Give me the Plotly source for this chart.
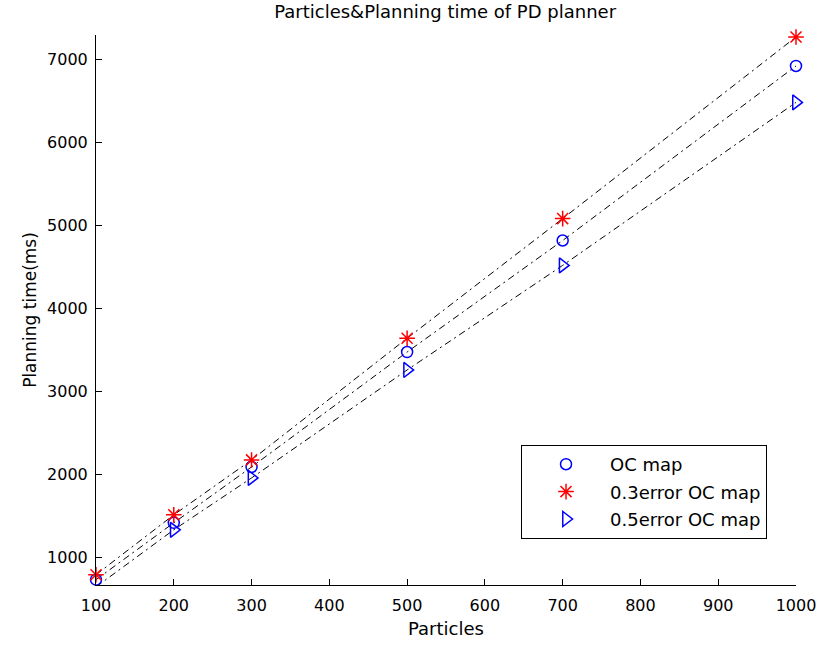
import plotly.graph_objects as go

particles = [100, 200, 300, 500, 700, 1000]
oc_map = [727, 1412, 2085, 3470, 4814, 6917]
err03_oc_map = [787, 1508, 2170, 3636, 5078, 7266]
err05_oc_map = [640, 1328, 1953, 3254, 4514, 6478]

series = [
    ("OC map", oc_map, "circle-open", "#0000ff", 11),
    ("0.3error OC map", err03_oc_map, "asterisk-open", "#ff0000", 13),
    ("0.5error OC map", err05_oc_map, "triangle-right-open", "#0000ff", 13),
]

FONT = "DejaVu Sans"
fig = go.Figure()

for name, vals, sym, col, sz in series:
    fig.add_trace(go.Scatter(
        x=particles, y=vals, mode="lines", showlegend=False,
        line=dict(color="black", width=1, dash="7px,4px,2px,4px"),
        hoverinfo="skip", cliponaxis=False,
    ))

for i, (name, vals, sym, col, sz) in enumerate(series):
    fig.add_trace(go.Scatter(
        x=particles, y=vals, mode="markers", name=name,
        legendgroup=f"g{i}",
        marker=dict(symbol=sym, size=sz, color=col, line=dict(color=col, width=1.5)),
        cliponaxis=False,
    ))

fig.update_layout(
    width=821, height=648,
    paper_bgcolor="white", plot_bgcolor="white",
    margin=dict(l=96, r=25, t=35, b=63, autoexpand=False),
    font=dict(family=FONT, size=16, color="black"),
    title=dict(text="Particles&Planning time of PD planner", x=0.5422, xanchor="center",
               y=0.982, yanchor="middle", font=dict(family=FONT, size=18)),
    xaxis=dict(
        range=[100, 1000], tickvals=[100, 200, 300, 400, 500, 600, 700, 800, 900, 1000],
        showgrid=False, zeroline=False, showline=True, linecolor="black", linewidth=1,
        ticks="inside", ticklen=6, tickcolor="black", ticklabelstandoff=6, automargin=False,
        title=dict(text="Particles", standoff=8, font=dict(family=FONT, size=18)),
    ),
    yaxis=dict(
        range=[663, 7290], tickvals=[1000, 2000, 3000, 4000, 5000, 6000, 7000],
        showgrid=False, zeroline=False, showline=True, linecolor="black", linewidth=1,
        ticks="inside", ticklen=6, tickcolor="black", ticklabelstandoff=4, automargin=False,
        title=dict(text="Planning time(ms)", standoff=6, font=dict(family=FONT, size=17)),
    ),
    legend=dict(
        x=0.9586, xanchor="right", y=0.0836, yanchor="bottom",
        bordercolor="black", borderwidth=1, bgcolor="white",
        font=dict(family=FONT, size=18), tracegroupgap=1, itemwidth=78,
    ),
)

fig.write_html("out.html")
